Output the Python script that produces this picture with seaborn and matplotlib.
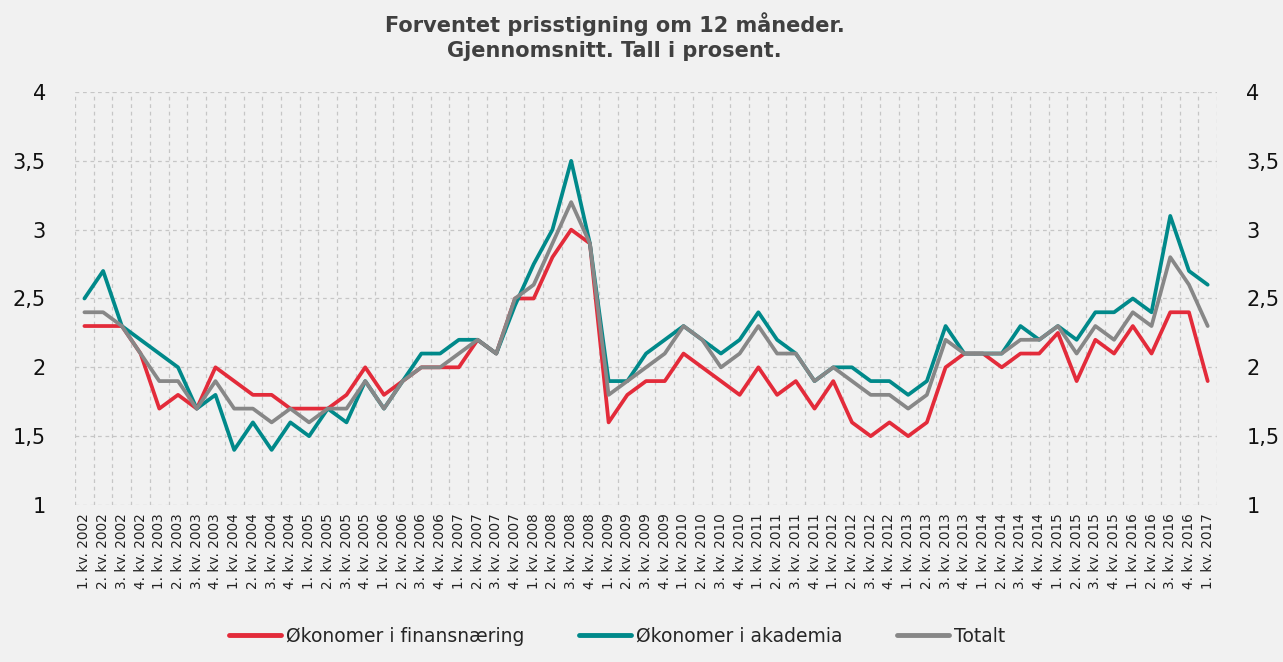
import matplotlib
matplotlib.use("Agg")
import matplotlib.pyplot as plt
import seaborn as sns
import pandas as pd
import numpy as np
from matplotlib.ticker import FixedLocator, FuncFormatter
from matplotlib.lines import Line2D

years = list(range(2002, 2018))
quarter_labels = [f"{q}. kv. {y}" for y in years for q in (1, 2, 3, 4)][:61]

finans = [2.3, 2.3, 2.3, 2.1, 1.7, 1.8, 1.7, 2.0, 1.9, 1.8, 1.8, 1.7,
          1.7, 1.7, 1.8, 2.0, 1.8, 1.9, 2.0, 2.0, 2.0, 2.2, 2.1, 2.5,
          2.5, 2.8, 3.0, 2.9, 1.6, 1.8, 1.9, 1.9, 2.1, 2.0, 1.9, 1.8,
          2.0, 1.8, 1.9, 1.7, 1.9, 1.6, 1.5, 1.6, 1.5, 1.6, 2.0, 2.1,
          2.1, 2.0, 2.1, 2.1, 2.25, 1.9, 2.2, 2.1, 2.3, 2.1, 2.4, 2.4, 1.9]
akademia = [2.5, 2.7, 2.3, 2.2, 2.1, 2.0, 1.7, 1.8, 1.4, 1.6, 1.4, 1.6,
            1.5, 1.7, 1.6, 1.9, 1.7, 1.9, 2.1, 2.1, 2.2, 2.2, 2.1, 2.45,
            2.75, 3.0, 3.5, 2.9, 1.9, 1.9, 2.1, 2.2, 2.3, 2.2, 2.1, 2.2,
            2.4, 2.2, 2.1, 1.9, 2.0, 2.0, 1.9, 1.9, 1.8, 1.9, 2.3, 2.1,
            2.1, 2.1, 2.3, 2.2, 2.3, 2.2, 2.4, 2.4, 2.5, 2.4, 3.1, 2.7, 2.6]
totalt = [2.4, 2.4, 2.3, 2.1, 1.9, 1.9, 1.7, 1.9, 1.7, 1.7, 1.6, 1.7,
          1.6, 1.7, 1.7, 1.9, 1.7, 1.9, 2.0, 2.0, 2.1, 2.2, 2.1, 2.5,
          2.6, 2.9, 3.2, 2.9, 1.8, 1.9, 2.0, 2.1, 2.3, 2.2, 2.0, 2.1,
          2.3, 2.1, 2.1, 1.9, 2.0, 1.9, 1.8, 1.8, 1.7, 1.8, 2.2, 2.1,
          2.1, 2.1, 2.2, 2.2, 2.3, 2.1, 2.3, 2.2, 2.4, 2.3, 2.8, 2.6, 2.3]

series_names = ["Økonomer i finansnæring", "Økonomer i akademia", "Totalt"]
colors = ["#e32b3a", "#00898a", "#878787"]
y_ticks = [1, 1.5, 2, 2.5, 3, 3.5, 4]

n = len(quarter_labels)
df = pd.DataFrame({
    "x": list(range(n)) * 3,
    "verdi": finans + akademia + totalt,
    "serie": [series_names[0]] * n + [series_names[1]] * n + [series_names[2]] * n,
})

sns.set_theme(style="white")
plt.rcParams["font.family"] = ["DejaVu Sans"]

bg = "#f1f1f1"
fig = plt.figure(figsize=(12.83, 6.62), dpi=100, facecolor=bg)
ax = fig.add_axes([0.0585, 0.2372, 0.8901, 0.6238])
ax.set_facecolor(bg)

sns.lineplot(data=df, x="x", y="verdi", hue="serie", hue_order=series_names,
             palette=colors, linewidth=2.7, ax=ax, legend=False)

ax.set_xlim(-0.5, n - 0.5)
ax.set_ylim(1, 4)
ax.set_xticks(range(n))
ax.set_xticklabels(quarter_labels, rotation=90, fontsize=9.8, color="#222222")
ax.xaxis.set_minor_locator(FixedLocator(np.arange(-0.5, n, 1.0)))
ax.set_yticks(y_ticks)
ax.yaxis.set_major_formatter(FuncFormatter(lambda v, p: f"{v:g}".replace(".", ",")))
ax.tick_params(axis="y", labelsize=15, labelleft=True, labelright=True,
               left=False, right=False, pad=15, colors="#111111")
ax.tick_params(axis="x", which="both", length=0, pad=6)
ax.set_xlabel("")
ax.set_ylabel("")
for s in ax.spines.values():
    s.set_visible(False)

ax.grid(False)
ax.grid(True, axis="x", which="minor", color="#c6c6c6", linestyle=(0, (3, 3)), linewidth=0.9)
ax.grid(True, axis="y", which="major", color="#c6c6c6", linestyle=(0, (3, 3)), linewidth=0.9)
ax.set_axisbelow(True)

fig.text(0.479, 0.982, "Forventet prisstigning om 12 måneder.\nGjennomsnitt. Tall i prosent.",
         ha="center", va="top", fontsize=15, fontweight="bold", color="#404040",
         linespacing=1.3)

handles = [Line2D([0], [0], color=c, linewidth=3.5) for c in colors]
fig.legend(handles, series_names, loc="center", bbox_to_anchor=(0.481, 0.039),
           ncol=3, frameon=False, fontsize=13.5, handlelength=2.8,
           handletextpad=0.25, columnspacing=2.9)

fig.savefig("out.png", dpi=100, facecolor=bg)
